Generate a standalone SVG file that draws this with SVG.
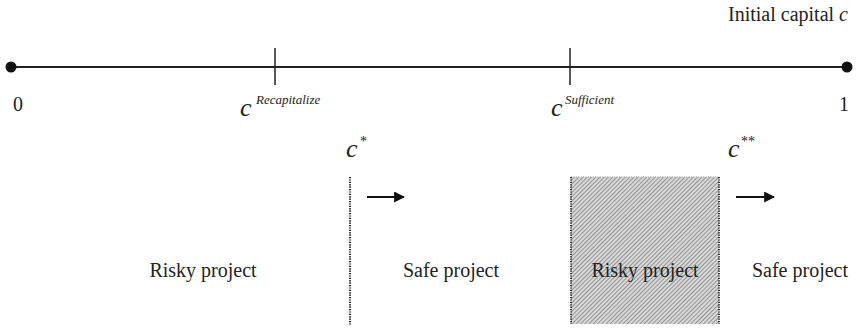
<svg xmlns="http://www.w3.org/2000/svg" width="857" height="328" viewBox="0 0 857 328">
<style>
text{font-family:'Liberation Serif','Times New Roman',Times,'DejaVu Serif',serif;fill:#222}
.lbl{font-size:20px}
.cv{font-size:26px;font-style:italic}
.sup{font-size:13px;font-style:italic}
.ax{stroke:#222;stroke-width:2;fill:none}
.tick{stroke:#222;stroke-width:1.5}
.arr{stroke:#111;stroke-width:2.2;fill:none}
</style>
<defs>
<marker id="ah" viewBox="0 0 10 10" refX="9" refY="5" markerWidth="5" markerHeight="5" orient="auto" markerUnits="strokeWidth">
<path d="M0,0 L10,5 L0,10 z" fill="#111"/>
</marker>
<pattern id="hatch" width="3" height="3" patternUnits="userSpaceOnUse" patternTransform="rotate(45)">
<rect width="3" height="3" fill="#d8d8d8"/>
<line x1="0" y1="0" x2="0" y2="3" stroke="#777" stroke-width="1.4"/>
</pattern>
</defs>
<g id="axis">
<line class="ax" x1="11" y1="67" x2="847" y2="67"/>
<circle cx="11" cy="67" r="5.5" fill="#111"/>
<circle cx="847" cy="67" r="5.5" fill="#111"/>
<text class="lbl" x="848" y="21" text-anchor="end">Initial capital <tspan font-style="italic">c</tspan></text>
<text class="lbl" x="13" y="111">0</text>
<text class="lbl" x="839" y="111">1</text>
</g>
<g id="tick-recap">
<line class="tick" x1="275" y1="48" x2="275" y2="85"/>
<text class="cv" x="240" y="116">c</text>
<text class="sup" x="256" y="104">Recapitalize</text>
</g>
<g id="tick-sufficient">
<line class="tick" x1="570" y1="48" x2="570" y2="85"/>
<text class="cv" x="551" y="116">c</text>
<text class="sup" x="565" y="104">Sufficient</text>
</g>
<g id="cstar">
<text class="cv" x="346" y="157">c</text>
<text x="360" y="146" font-size="14">*</text>
<line x1="350" y1="177" x2="350" y2="325" stroke="#222" stroke-width="2" stroke-dasharray="1.2 1.2"/>
</g>
<g id="cstarstar">
<text class="cv" x="728" y="157">c</text>
<text x="741" y="146" font-size="14">**</text>
</g>
<g id="risky-box">
<rect x="571" y="177" width="148" height="147" fill="url(#hatch)"/>
<line x1="571" y1="177" x2="719" y2="177" stroke="#bbb" stroke-width="1.5" stroke-dasharray="1.2 1.2"/>
<line x1="571" y1="177" x2="571" y2="324" stroke="#333" stroke-width="2" stroke-dasharray="1.2 1.2"/>
<line x1="719" y1="177" x2="719" y2="324" stroke="#333" stroke-width="2" stroke-dasharray="1.2 1.2"/>
<text class="lbl" x="645" y="277" text-anchor="middle" fill="#333">Risky project</text>
</g>
<g id="region-risky1"><text class="lbl" x="203" y="277" text-anchor="middle">Risky project</text></g>
<g id="region-safe1"><text class="lbl" x="451" y="277" text-anchor="middle">Safe project</text></g>
<g id="region-safe2"><text class="lbl" x="800" y="277" text-anchor="middle">Safe project</text></g>
<g id="connectors">
<line class="arr" x1="367" y1="197" x2="404" y2="197" marker-end="url(#ah)"/>
<line class="arr" x1="736" y1="197" x2="774" y2="197" marker-end="url(#ah)"/>
</g>
</svg>
